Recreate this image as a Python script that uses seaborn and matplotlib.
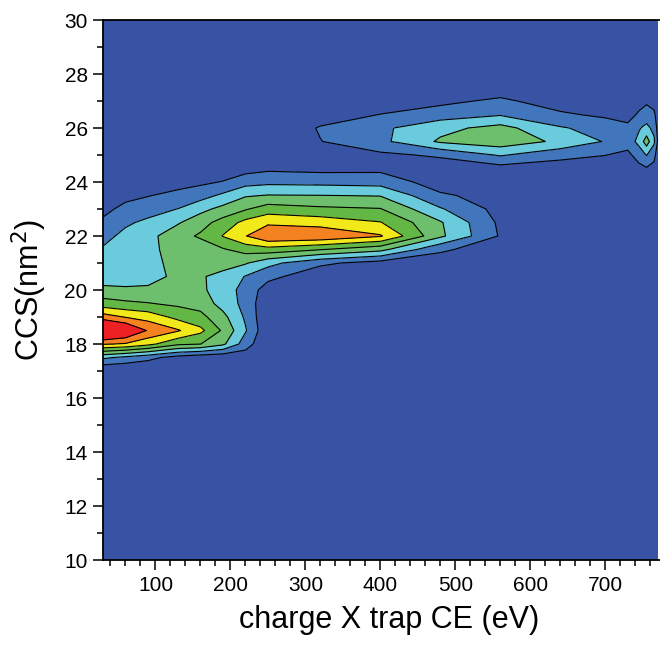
import numpy as np
import matplotlib
matplotlib.use("Agg")
import matplotlib.pyplot as plt
from matplotlib.ticker import MultipleLocator
import seaborn as sns

# trap CE values (x) and CCS values (y) of the grid
ce = [30, 60, 90, 130, 160, 190, 220, 250, 320, 400, 480, 560, 640, 700, 730, 745, 755, 765, 770]
ccs = [10, 17, 17.5, 18, 18.5, 19, 19.5, 20, 20.5, 21, 21.5, 22, 22.5, 23, 23.5, 24,
       24.5, 25, 25.5, 26, 26.5, 27, 27.5, 30]

# intensity along CCS, one list per CE value
intensity = [
    [0, 0, 2.2, 6.1, 9.1, 6.5, 4.4, 3.35, 2.3, 2.25, 2.1, 1.7, 1.2, 0.7, 0.3, 0.1, 0, 0, 0, 0, 0, 0, 0, 0],            # 30
    [0, 0, 1.75, 5.9, 8.3, 5.95, 4.2, 3.2, 2.4, 2.4, 2.45, 2.25, 1.85, 1.3, 0.7, 0.3, 0.1, 0, 0, 0, 0, 0, 0, 0],       # 60
    [0, 0, 1.3, 5.3, 6.9, 5.6, 4.05, 3.2, 2.6, 2.7, 2.75, 2.7, 2.2, 1.6, 0.95, 0.4, 0.1, 0, 0, 0, 0, 0, 0, 0],         # 90
    [0, 0, 0.6, 4.2, 6.1, 4.7, 3.8, 3.35, 3.25, 3.3, 3.4, 3.6, 2.9, 2.02, 1.3, 0.6, 0.2, 0, 0, 0, 0, 0, 0, 0],         # 130
    [0, 0, 0.3, 4.02, 5.25, 4.3, 3.6, 3.2, 3.1, 3.15, 3.4, 4.15, 3.6, 2.7, 1.6, 0.8, 0.3, 0, 0, 0, 0, 0, 0, 0],        # 160
    [0, 0, 0.2, 3.2, 3.85, 3.3, 2.6, 2.5, 2.7, 3.4, 3.9, 5.05, 4.4, 3.3, 2.2, 1.05, 0.4, 0, 0, 0, 0, 0, 0, 0],         # 190
    [0, 0, 0.4, 1.5, 2.1, 1.85, 1.7, 1.65, 1.95, 3.1, 4.4, 5.95, 5.3, 3.9, 2.9, 1.6, 0.6, 0.1, 0, 0, 0, 0, 0, 0],      # 220
    [0, 0, 0, 0.05, 0.15, 0.1, 0.15, 0.5, 1.3, 2.3, 4.6, 6.9, 5.8, 4.5, 3.05, 1.75, 0.8, 0.2, 0, 0, 0, 0, 0, 0],       # 250
    [0, 0, 0, 0, 0, 0, 0, 0.05, 0.3, 1.2, 4.05, 6.8, 5.6, 4.2, 3.02, 1.7, 0.7, 0.3, 0.97, 1.1, 0.4, 0.1, 0, 0],        # 320
    [0, 0, 0, 0, 0, 0, 0, 0, 0.1, 0.6, 3.3, 6.1, 5.05, 4.05, 2.95, 1.6, 0.75, 0.8, 1.75, 1.8, 1.02, 0.4, 0.1, 0],      # 400
    [0, 0, 0, 0, 0, 0, 0, 0, 0.1, 0.5, 1.15, 3.2, 3.1, 2.1, 1.15, 0.5, 0.4, 1.15, 3.15, 2.7, 1.5, 0.75, 0.2, 0],       # 480
    [0, 0, 0, 0, 0, 0, 0, 0, 0, 0.2, 0.5, 0.9, 0.8, 0.65, 0.6, 0.4, 0.6, 2.1, 3.6, 3.35, 1.9, 1.2, 0.4, 0],           # 560
    [0, 0, 0, 0, 0, 0, 0, 0, 0, 0.05, 0.1, 0.2, 0.2, 0.2, 0.2, 0.2, 0.5, 1.3, 2.8, 2.1, 1.15, 0.5, 0.1, 0],           # 640
    [0, 0, 0, 0, 0, 0, 0, 0, 0, 0, 0, 0.1, 0.1, 0.1, 0.1, 0.1, 0.4, 1.02, 1.93, 1.6, 0.8, 0.3, 0, 0],                 # 700
    [0, 0, 0, 0, 0, 0, 0, 0, 0, 0, 0, 0, 0, 0, 0, 0.1, 0.3, 0.75, 1.45, 1.25, 0.6, 0.2, 0, 0],                        # 730
    [0, 0, 0, 0, 0, 0, 0, 0, 0, 0, 0, 0, 0, 0, 0, 0.1, 0.7, 1.45, 2.3, 1.9, 1.15, 0.6, 0.1, 0],                       # 745
    [0, 0, 0, 0, 0, 0, 0, 0, 0, 0, 0, 0, 0, 0, 0, 0.3, 0.9, 2.05, 3.5, 2.3, 1.4, 0.85, 0.2, 0],                       # 755
    [0, 0, 0, 0, 0, 0, 0, 0, 0, 0, 0, 0, 0, 0, 0, 0.1, 0.7, 1.3, 2.2, 1.7, 1.2, 0.6, 0.1, 0],                         # 765
    [0, 0, 0, 0, 0, 0, 0, 0, 0, 0, 0, 0, 0, 0, 0, 0, 0.2, 0.5, 0.9, 0.7, 0.5, 0.2, 0, 0],                             # 770
]

levels = [-1, 1, 2, 3, 4, 5, 6, 7, 12]
band_colors = ["#3953A4", "#4176BC", "#6ACBDC", "#6DBF6E", "#63B745",
               "#F2E91B", "#F58220", "#ED2024"]

sns.set_theme(style="ticks")
plt.rcParams['font.family'] = ['Liberation Sans', 'DejaVu Sans']
plt.rcParams['text.color'] = 'black'
plt.rcParams['axes.labelcolor'] = 'black'
palette = sns.color_palette(band_colors)

z = np.array(intensity).T

fig = plt.figure(figsize=(6.6, 6.48), dpi=100)
ax = fig.add_axes([103 / 660, 88 / 648, 572 / 660, 540 / 648])

ax.contourf(ce, ccs, z, levels=levels, colors=palette)
ax.contour(ce, ccs, z, levels=levels[1:-1], colors="black", linewidths=0.8)

ax.set_xlim(30, 793)
ax.set_ylim(10, 30)
ax.set_xticks([100, 200, 300, 400, 500, 600, 700])
ax.set_yticks(range(10, 31, 2))
ax.xaxis.set_minor_locator(MultipleLocator(20))
ax.yaxis.set_minor_locator(MultipleLocator(1))

ax.tick_params(which="major", direction="out", length=7.5, width=1.1,
               labelsize=15, color="black", labelcolor="black")
ax.tick_params(which="minor", direction="out", length=4.5, width=1.1, color="black")
ax.tick_params(axis="x", pad=4)
ax.tick_params(axis="y", pad=3.5)

for side in ["left", "bottom", "top", "right"]:
    ax.spines[side].set_linewidth(1.3)
    ax.spines[side].set_color("black")

ax.set_xlabel("charge X trap CE (eV)", fontsize=22, labelpad=7)
ax.set_ylabel("CCS(nm$^2$)", fontsize=22, labelpad=11)

fig.savefig("out.png", dpi=100)
